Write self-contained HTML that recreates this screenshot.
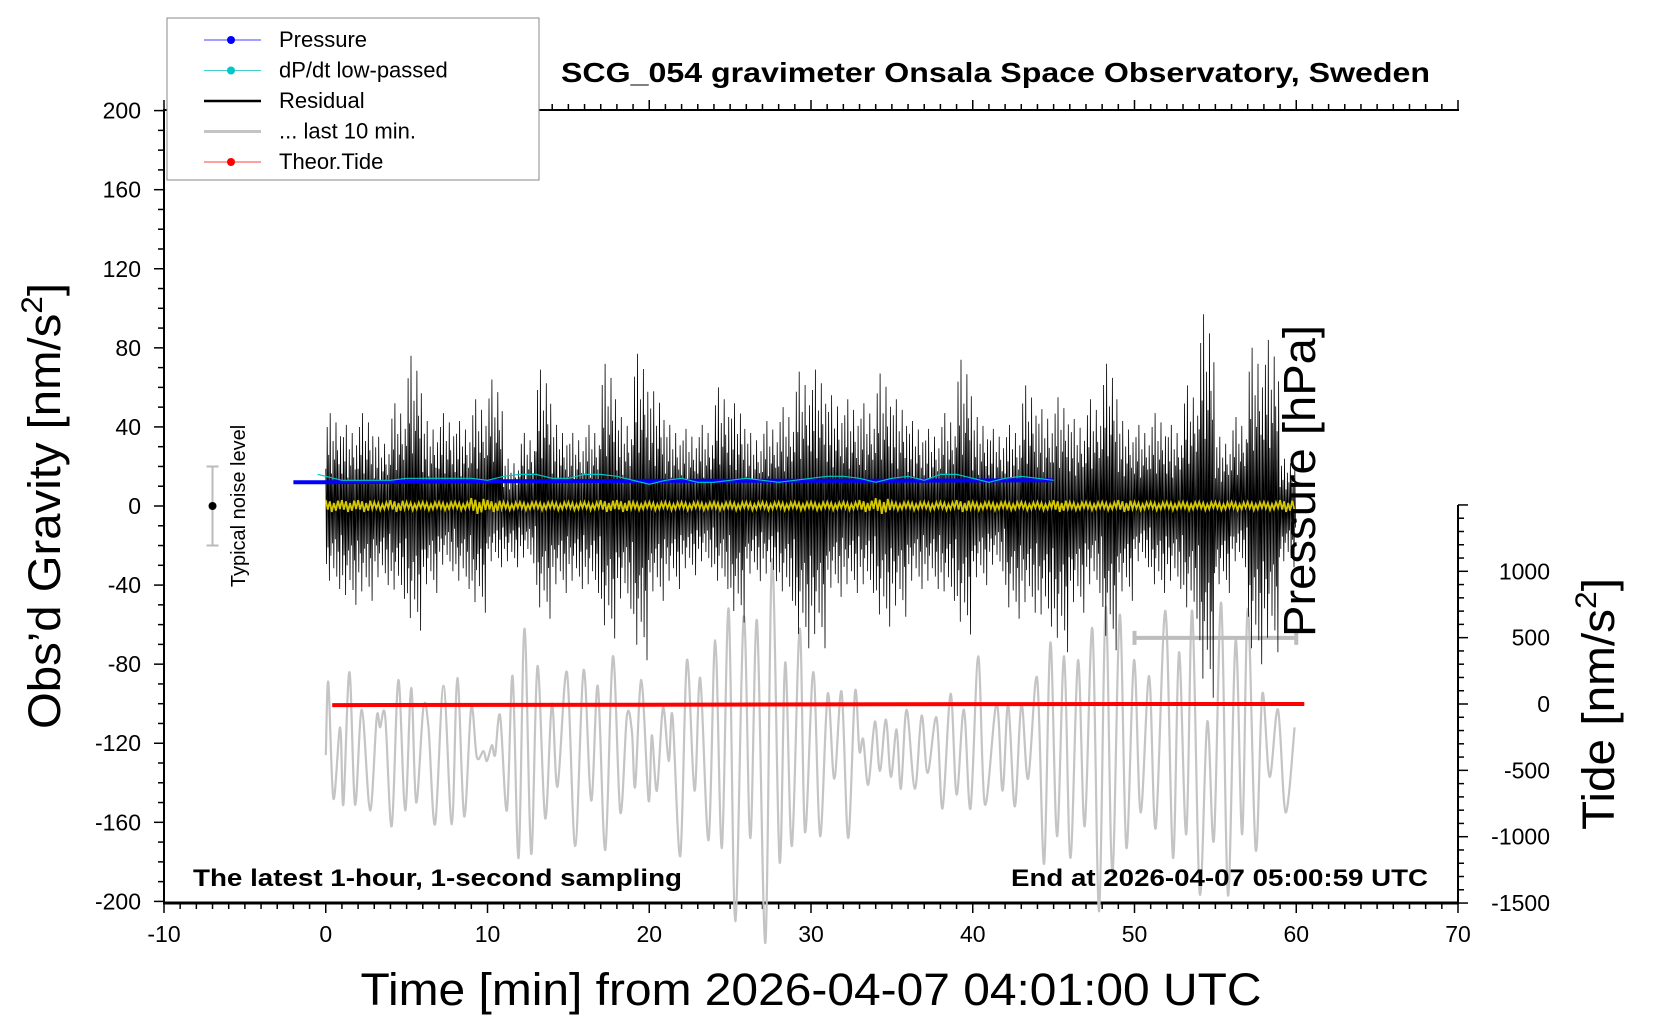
<!DOCTYPE html>
<html><head><meta charset="utf-8"><style>
html,body{margin:0;padding:0;background:#fff;}
svg{display:block;font-family:"Liberation Sans",sans-serif;}
</style></head><body>
<svg id="chart" width="1660" height="1020" viewBox="0 0 1660 1020" xmlns="http://www.w3.org/2000/svg">
<rect x="0" y="0" width="1660" height="1020" fill="#fff"/>
<g id="axes"></g>
<g id="marks"></g>
<g id="labels">
<text x="561" y="82" font-size="28" font-weight="bold" textLength="869" lengthAdjust="spacingAndGlyphs">SCG_054 gravimeter Onsala Space Observatory, Sweden</text>
<text x="193" y="886" font-size="24" font-weight="bold" textLength="489" lengthAdjust="spacingAndGlyphs">The latest 1-hour, 1-second sampling</text>
<text x="1011" y="886" font-size="24" font-weight="bold" textLength="417" lengthAdjust="spacingAndGlyphs">End at 2026-04-07 05:00:59 UTC</text>
<text x="811" y="1005" font-size="45" text-anchor="middle" textLength="901" lengthAdjust="spacingAndGlyphs">Time [min] from 2026-04-07 04:01:00 UTC</text>
<text transform="translate(60,506) rotate(-90)" font-size="45" text-anchor="middle" textLength="446" lengthAdjust="spacingAndGlyphs">Obs’d Gravity [nm/s<tspan font-size="30" dy="-18">2</tspan><tspan dy="18">]</tspan></text>
<text transform="translate(1614,704) rotate(-90)" font-size="45" text-anchor="middle" textLength="252" lengthAdjust="spacingAndGlyphs">Tide [nm/s<tspan font-size="30" dy="-18">2</tspan><tspan dy="18">]</tspan></text>
<text transform="translate(1315,481) rotate(-90)" font-size="45" text-anchor="middle" textLength="312" lengthAdjust="spacingAndGlyphs">Pressure [hPa]</text>
<text transform="translate(245,506) rotate(-90)" font-size="20" text-anchor="middle">Typical noise level</text>
</g>
<g id="legend"></g>
</svg>
<script>
// ---- data ----
const xTicks = [-10,0,10,20,30,40,50,60,70];
const yTicks = [200,160,120,80,40,0,-40,-80,-120,-160,-200];
const tideTicks = [1000,500,0,-500,-1000,-1500];
// residual per-minute extremes (nm/s^2)
const resMax = [47,41,47,35,52,76,43,47,43,54,64,24,37,69,41,37,41,72,45,77,58,41,39,41,60,52,37,43,50,68,69,56,54,52,67,54,43,39,47,74,45,39,41,61,49,55,44,54,72,43,41,47,41,61,97,35,45,80,84,24];
const resMin = [-42,-50,-48,-40,-47,-63,-44,-33,-42,-54,-31,-31,-29,-57,-44,-42,-44,-67,-52,-78,-48,-42,-35,-31,-42,-59,-38,-38,-48,-72,-72,-46,-44,-44,-61,-56,-42,-42,-48,-65,-40,-33,-57,-54,-61,-74,-54,-44,-73,-48,-31,-44,-42,-57,-97,-44,-31,-80,-74,-31];
// yellow filtered residual amplitude per minute
const yelAmp = [3,3,3,2,3,2,2,2,2,4,3,2,2,2,2,2,2,3,3,2,2,2,2,2,2,2,2,2,2,2,2,2,2,3,4,2,2,2,2,3,2,2,2,2,2,3,2,2,2,3,2,2,2,2,2,2,2,2,2,3];
// pressure & dP/dt
const presT = [-2,0,5,10,15,20,25,30,35,40,45];
const presV = [12,12,12.3,12.5,12.6,12.7,12.8,12.8,12.8,12.9,13];
const cyanT = [-0.5,0,1,2,3,4,5,6,7,8,9,10,11,12,13,14,15,16,17,18,19,20,21,22,23,24,25,26,27,28,29,30,31,32,33,34,35,36,37,38,39,40,41,42,43,44,45];
const cyanV = [16,15,13,13,13,13,14,14,14,14,14,13,15,16,16,14,14,16,16,15,13,11,13,14,12,12,13,14,13,12,13,14,15,15,14,12,14,15,13,16,16,14,12,14,15,14,13];
// last 10 min (plotted on gravity axis)
const grayT = [0,0.16,0.47,0.89,1.09,1.46,1.81,2.23,2.74,3.15,3.36,3.67,4.08,4.49,4.91,5.28,5.59,6.04,6.35,6.76,7.28,7.79,8.14,8.56,8.99,9.34,9.75,9.96,10.27,10.47,10.78,11.2,11.55,11.92,12.29,12.7,13.09,13.57,13.98,14.33,14.91,15.42,15.94,16.41,16.82,17.28,17.75,18.21,18.62,18.93,19.13,19.51,19.96,20.16,20.47,20.85,21.2,21.44,21.92,22.33,22.8,23.15,23.67,24.08,24.49,24.91,25.32,25.84,26.25,26.66,27.18,27.59,28.06,28.41,28.82,29.3,29.63,30.14,30.56,31.03,31.44,31.89,32.3,32.72,32.99,33.23,33.54,33.95,34.26,34.63,34.94,35.29,35.56,35.91,36.42,36.84,37.21,37.76,38.13,38.63,39.0,39.45,39.86,40.34,40.75,41.47,41.84,42.19,42.6,43.01,43.42,43.98,44.41,44.8,45.21,45.65,46.04,46.51,46.92,47.4,47.81,48.22,48.63,49.09,49.5,49.97,50.38,50.9,51.31,51.91,52.38,52.75,53.2,53.57,54.03,54.5,54.91,55.36,55.78,56.25,56.66,57.01,57.49,57.9,58.35,58.87,59.34,59.9];
const grayV = [-126,-89,-148,-112,-151,-84,-151,-103,-154,-107,-112,-106,-162,-88,-154,-92,-150,-102,-112,-161,-91,-161,-87,-157,-102,-127,-124,-129,-121,-126,-106,-154,-86,-178,-62,-176,-81,-158,-100,-142,-84,-172,-83,-149,-91,-174,-76,-155,-106,-114,-142,-88,-149,-116,-144,-102,-129,-106,-177,-78,-144,-87,-169,-68,-173,-52,-210,-56,-168,-58,-221,-27,-180,-79,-172,-62,-165,-84,-167,-95,-138,-94,-168,-94,-124,-118,-141,-109,-134,-108,-137,-113,-143,-103,-143,-106,-135,-107,-153,-95,-146,-103,-153,-76,-151,-100,-144,-100,-152,-100,-138,-87,-181,-69,-167,-76,-178,-78,-162,-62,-205,-51,-186,-55,-173,-78,-155,-86,-163,-53,-178,-74,-166,-53,-196,-109,-169,-49,-197,-68,-166,-52,-174,-95,-137,-103,-155,-112];
const tideT = [0.4,10,20,30,40,50,60.5];
const tideV = [-8,-7,-5,-3,-1,0,0];
const lastWin = [50,60];
const lastWinLevel = -66.7;
const noiseLevel = 20;

// ---- scales ----
const X = t => 325.75 + (t) * 16.175;
const Y = g => 506 - g * 1.977;
const YT = v => 704 - v * 0.1327;
const NS = 'http://www.w3.org/2000/svg';
function mk(tag, attrs, parent){const e=document.createElementNS(NS,tag);for(const k in attrs)e.setAttribute(k,attrs[k]);parent.appendChild(e);return e;}
const axes=document.getElementById('axes'), marks=document.getElementById('marks'), leg=document.getElementById('legend');

let a;
a=mk('line',{x1:164,y1:110,x2:164,y2:903,stroke:'#000','stroke-width':2},axes);


a=mk('line',{x1:163,y1:903,x2:1459,y2:903,stroke:'#000','stroke-width':3},axes);


a=mk('line',{x1:163,y1:110,x2:1459,y2:110,stroke:'#000','stroke-width':2},axes);


a=mk('line',{x1:1458,y1:505,x2:1458,y2:903,stroke:'#000','stroke-width':2},axes);


for(let t=-10;t<=70;t++){const x=X(t),maj=(t%10===0);
  mk('line',{x1:x,y1:903,x2:x,y2:903+(maj?10:6),stroke:'#000','stroke-width':1.5},axes);
  mk('line',{x1:x,y1:110,x2:x,y2:110-(maj?10:6),stroke:'#000','stroke-width':1.5},axes);}
xTicks.forEach(t=>{const e=mk('text',{x:X(t),y:942,'font-size':23,'text-anchor':'middle'},axes);e.textContent=t;

});
for(let g=-200;g<=200;g+=10){const y=Y(g),maj=(g%40===0);
  mk('line',{x1:164,y1:y,x2:164-(maj?10:6),y2:y,stroke:'#000','stroke-width':1.5},axes);}
yTicks.forEach(g=>{const e=mk('text',{x:141,y:Y(g)+8,'font-size':23,'text-anchor':'end'},axes);e.textContent=g;

});
for(let v=-1500;v<=1500;v+=100){const y=YT(v),maj=(v%500===0);
  mk('line',{x1:1458,y1:y,x2:1458+(maj?10:6),y2:y,stroke:'#000','stroke-width':1.5},axes);}
tideTicks.forEach(v=>{const e=mk('text',{x:1550,y:YT(v)+8,'font-size':23,'text-anchor':'end'},axes);e.textContent=v;

});

// smooth gray last-10-min curve (Catmull-Rom)
const gp=grayT.map((t,i)=>[X(t),Y(grayV[i])]);
let d='M'+gp[0][0].toFixed(1)+','+gp[0][1].toFixed(1);
for(let i=0;i<gp.length-1;i++){const p0=gp[Math.max(i-1,0)],p1=gp[i],p2=gp[i+1],p3=gp[Math.min(i+2,gp.length-1)];
  const c1=[p1[0]+(p2[0]-p0[0])/6,p1[1]+(p2[1]-p0[1])/6],c2=[p2[0]-(p3[0]-p1[0])/6,p2[1]-(p3[1]-p1[1])/6];
  d+='C'+c1[0].toFixed(1)+','+c1[1].toFixed(1)+' '+c2[0].toFixed(1)+','+c2[1].toFixed(1)+' '+p2[0].toFixed(1)+','+p2[1].toFixed(1);}
let g=mk('path',{d:d,fill:'none',stroke:'#c4c4c4','stroke-width':2.2},marks);


g=mk('path',{d:`M${X(lastWin[0])},${Y(lastWinLevel)}H${X(lastWin[1])}M${X(lastWin[0])},${Y(lastWinLevel)-7}v14M${X(lastWin[1])},${Y(lastWinLevel)-7}v14`,stroke:'#bdbdbd','stroke-width':4,fill:'none'},marks);


// residual
const P=[0.4,0.85,0.55,1,0.35,0.7,0.5,0.9,0.6,0.45,0.75];
const N=P.length;
d='';
resMax.forEach((mx,i)=>{const mn=resMin[i];
  for(let k=0;k<N;k++){const t=i+k/N;
    const up=mx*P[k], dn=mn*P[(k+5)%N];
    d+=(i===0&&k===0?'M':'L')+X(t).toFixed(1)+','+Y(up).toFixed(1)+'L'+X(t+0.5/N).toFixed(1)+','+Y(dn).toFixed(1);}});
g=mk('path',{d:d,fill:'none',stroke:'#000','stroke-width':0.8},marks);


pts=presT.map((t,i)=>X(t).toFixed(1)+','+Y(presV[i]).toFixed(1)).join(' ');
g=mk('polyline',{points:pts,fill:'none',stroke:'#0000ff','stroke-width':4},marks);


var pts=cyanT.map((t,i)=>X(t).toFixed(1)+','+Y(cyanV[i]).toFixed(1)).join(' ');
g=mk('polyline',{points:pts,fill:'none',stroke:'#00c8c8','stroke-width':1.2},marks);


const Q=[1,-0.6,0.8,-1,0.5,-0.8,0.9,-0.5];
d='';
yelAmp.forEach((am,i)=>{for(let k=0;k<8;k++){d+=(i===0&&k===0?'M':'L')+X(i+k/8).toFixed(1)+','+Y(am*Q[k]).toFixed(1);}});
g=mk('path',{d:d,fill:'none',stroke:'#d4c800','stroke-width':1.8},marks);


pts=tideT.map((t,i)=>X(t).toFixed(1)+','+YT(tideV[i]).toFixed(1)).join(' ');
g=mk('polyline',{points:pts,fill:'none',stroke:'#ff0000','stroke-width':4},marks);


g=mk('path',{d:`M${X(-7)},${Y(noiseLevel)}V${Y(-noiseLevel)}M${X(-7)-6},${Y(noiseLevel)}h12M${X(-7)-6},${Y(-noiseLevel)}h12`,stroke:'#bbb','stroke-width':2,fill:'none'},marks);


g=mk('circle',{cx:X(-7),cy:Y(0),r:4,fill:'#000'},marks);



let r=mk('rect',{x:167,y:18,width:372,height:162,fill:'#fff',stroke:'#888','stroke-width':1},leg);


const items=[['Pressure','#4040ff',1,'#0000ff'],['dP/dt low-passed','#40d0d0',1,'#00c8c8'],['Residual','#000',2.5,null],['... last 10 min.','#c4c4c4',3,null],['Theor.Tide','#ff4040',1,'#ff0000']];
items.forEach((it,i)=>{const y=40+i*30.5;
  const grp=mk('g',{},leg);
  
  
  mk('line',{x1:204,y1:y,x2:261,y2:y,stroke:it[1],'stroke-width':it[2]},grp);
  if(it[3])mk('circle',{cx:231,cy:y,r:4,fill:it[3]},grp);
  const t=mk('text',{x:279,y:y+7,'font-size':22},grp);t.textContent=it[0];});
</script>
</body></html>
